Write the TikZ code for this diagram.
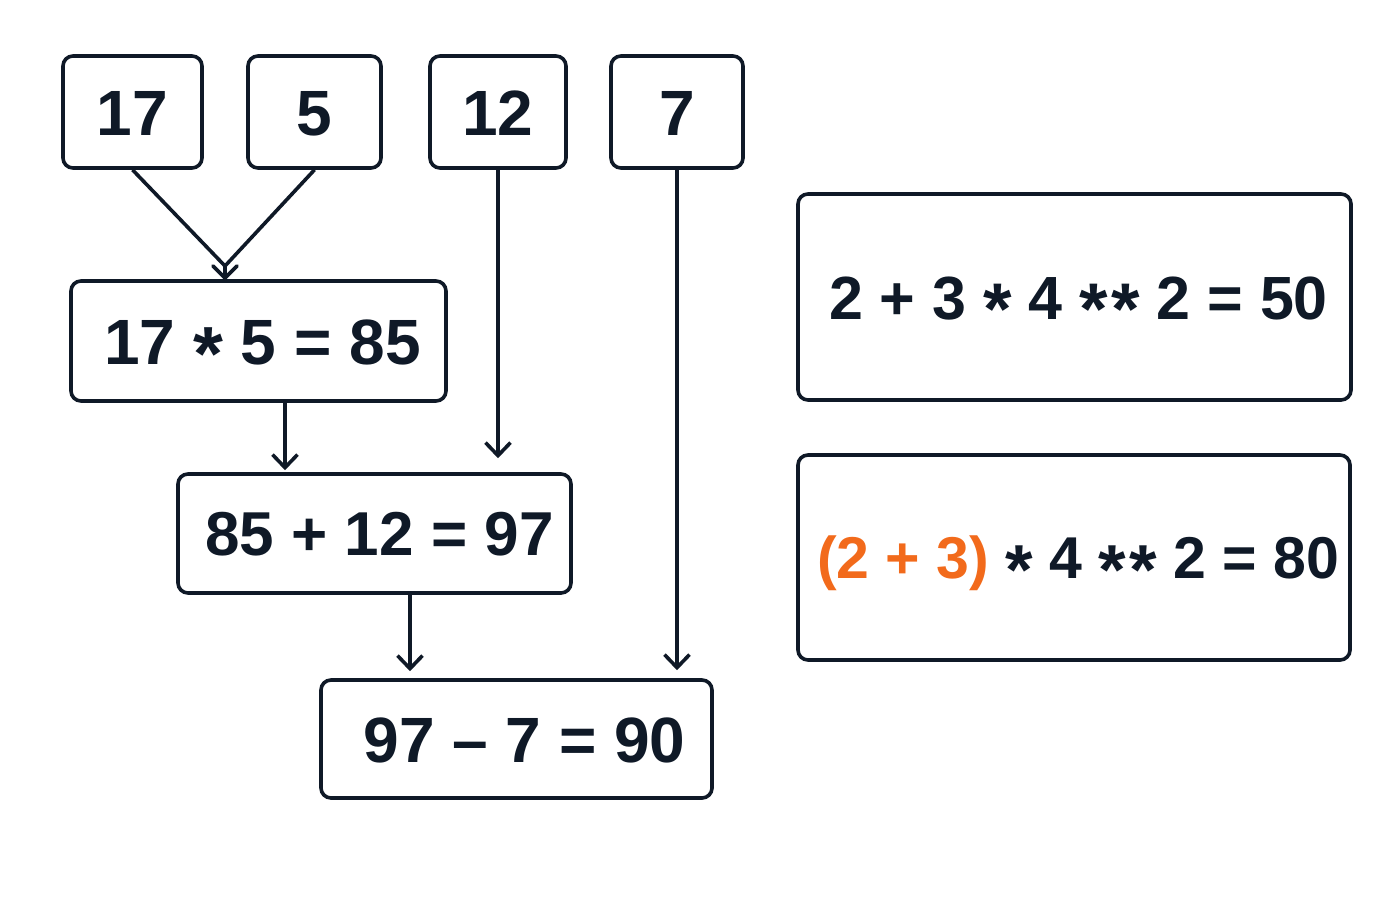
\documentclass[tikz,border=0pt]{standalone}
\usepackage{fontspec}
\setmainfont{Liberation Sans}
\usetikzlibrary{arrows.meta,calc}
\definecolor{ink}{HTML}{0F1927}
\definecolor{orng}{HTML}{F26A1B}
\newcommand{\myast}{\raisebox{-0.26em}{\scalebox{1.2}{*}}}
\newcommand{\mydast}{\myast\kern1.5pt\myast}
\begin{document}
\begin{tikzpicture}[x=0.5pt,y=-0.5pt,
  box/.style={draw=ink,line width=1.8pt,rounded corners=5pt,inner sep=0pt,text height=23pt,text depth=0pt,font=\fontsize{32}{40}\selectfont\bfseries,text=ink},
  box31/.style={box,text height=22.3pt,font=\fontsize{31}{38}\selectfont\bfseries},
  boxr1/.style={box,text height=22pt,font=\fontsize{30.5}{38}\selectfont\bfseries},
  boxr2/.style={box,text height=21.2pt,font=\fontsize{29.5}{38}\selectfont\bfseries},
  arr/.style={draw=ink,line width=1.8pt,-{Straight Barb[length=6.5pt,width=12.5pt,line width=1.8pt]}},
  ln/.style={draw=ink,line width=1.8pt}
]
\useasboundingbox (0,0) rectangle (1400,900);
\fill[white] (0,0) rectangle (1400,900);
% top inputs
\node[box,minimum width=69.5pt,minimum height=56pt] (n17) at (132.5,112) {17};
\node[box,minimum width=66.5pt,minimum height=56pt] (n5) at (314.5,112) {5};
\node[box,minimum width=68pt,minimum height=56pt] (n12) at (498,112) {12};
\node[box,minimum width=66pt,minimum height=56pt] (n7) at (677,112) {7};
% steps
\node[box,minimum width=187.5pt,minimum height=60pt] (b1) at (258.5,341) {\hspace*{4pt}17 \myast{} 5 = 85};
\node[box31,minimum width=196.5pt,minimum height=59.5pt] (b2) at (374.5,533.5) {\hspace*{5pt}85 + 12 = 97};
\node[box,minimum width=195.5pt,minimum height=59pt] (b3) at (516.5,739) {\hspace*{8pt}97 – 7 = 90};
% right
\node[boxr1,minimum width=276.5pt,minimum height=103pt] (r1) at (1074.5,297) {\hspace*{4pt}2 + 3 \myast{} 4 \mydast{} 2 = 50};
\node[boxr2,minimum width=276pt,minimum height=102.5pt] (r2) at (1074,557.5) {\hspace*{4pt}\textcolor{orng}{(2 + 3)} \myast{} 4 \mydast{} 2 = 80};
% connectors
\coordinate (apex) at (225,266);
\coordinate (tip) at (225,278);
\draw[ln,line join=round] (n17.south) -- (apex) -- (n5.south);
\draw[ln,line join=miter,line cap=round] ($(tip)+(-12,-12)$) -- (tip) -- ($(tip)+(12,-12)$);
\draw[ln] (apex) -- (tip);
\draw[arr] (n12.south) -- ($(n12.south |- b2.north)+(0,-14)$);
\draw[arr] ($(b1.south)+(26.5,0)$) -- ($(b1.south |- b2.north)+(26.5,-2)$);
\draw[arr] ($(b2.south)+(35.5,0)$) -- ($(b2.south |- b3.north)+(35.5,-7)$);
\draw[arr] (n7.south) -- ($(n7.south |- b3.north)+(0,-8)$);
\end{tikzpicture}
\end{document}
